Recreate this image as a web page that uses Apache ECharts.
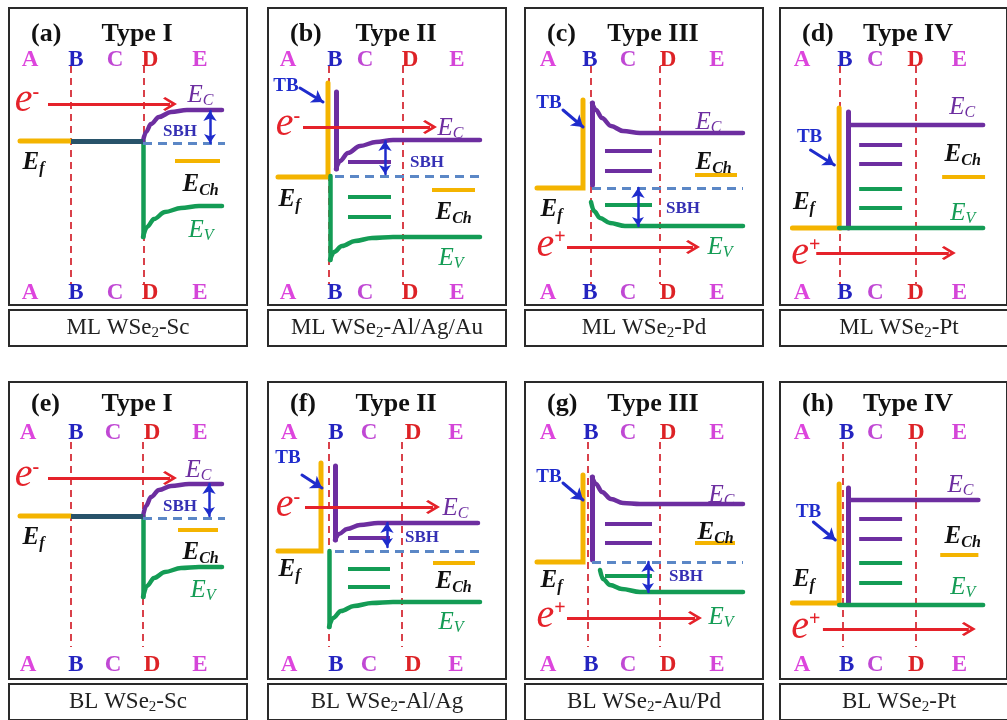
<!DOCTYPE html>
<html>
<head>
<meta charset="utf-8">
<script src="https://cdn.jsdelivr.net/npm/echarts@6/dist/echarts.min.js"></script>
<style>
  html, body { margin: 0; padding: 0; background: #ffffff; }
  #chart { width: 1007px; height: 720px; }
</style>
</head>
<body>
<div id="chart"></div>
<script>
// ---- Panel identity -------------------------------------------------------
const panelTags    = ['(a)', '(b)', '(c)', '(d)', '(e)', '(f)', '(g)', '(h)'];
const contactTypes = ['Type I', 'Type II', 'Type III', 'Type IV', 'Type I', 'Type II', 'Type III', 'Type IV'];
const layers       = ['ML', 'ML', 'ML', 'ML', 'BL', 'BL', 'BL', 'BL'];
const metals       = ['Sc', 'Al/Ag/Au', 'Pd', 'Pt', 'Sc', 'Al/Ag', 'Au/Pd', 'Pt'];
const regionNames  = ['A', 'B', 'C', 'D', 'E'];

// ---- Schematic coordinates (x: position across the contact, y: energy depth) ----
const regionLetterX = [
  [21, 67, 106, 141, 191], [20, 67, 97, 142, 189], [23, 65, 103, 143, 192], [23, 68, 100, 142, 188],
  [19, 67, 104, 143, 191], [21, 68, 101, 145, 188], [23, 66, 103, 143, 192], [23, 70, 100, 143, 188]
];
// interfaces B and D
const interfaceX = [[62, 135], [61, 135], [66, 135], [63, 142], [62, 134], [61, 134], [63, 135], [66, 142]];

// metal Fermi level (with the tunnelling-barrier step where present)
const metalFermi = [
  [[11, 133], [62, 133]],
  [[10, 169], [60, 169], [60, 75]],
  [[12, 180], [58, 180], [58, 92]],
  [[13, 220], [62, 220], [62, 100]],
  [[11, 134], [62, 134]],
  [[10, 169], [53, 169], [53, 81]],
  [[12, 180], [58, 180], [58, 93]],
  [[13, 221], [62, 221], [62, 102]]
];
// metallised region where E_C and E_V merge with E_f
const metallicOverlap = [[[62, 133], [134, 133]], null, null, null, [[62, 134], [134, 134]], null, null, null];
// vertical wall of the tunnelling barrier
const barrierWall = [
  null, [[68, 84], [68, 161]], [[67, 95], [67, 177]], [[72, 104], [72, 220]],
  null, [[67, 84], [67, 158]], [[67, 95], [67, 178]], [[72, 106], [72, 221]]
];
const conductionBand = [
  [[134, 133], [137, 124], [142, 116], [150, 109], [162, 104], [178, 102], [213, 102]],
  [[68, 161], [72, 153], [80, 145], [92, 138], [108, 134], [125, 132], [212, 132]],
  [[67, 95], [71, 102], [77, 110], [86, 118], [98, 123], [115, 125], [218, 125]],
  [[72, 117], [213, 117]],
  [[134, 134], [137, 124], [142, 115], [150, 108], [162, 104], [180, 102], [213, 102]],
  [[67, 158], [71, 152], [79, 147], [92, 143], [110, 141], [130, 141], [210, 141]],
  [[67, 95], [71, 102], [77, 110], [86, 117], [98, 121], [115, 122], [218, 122]],
  [[72, 118], [208, 118]]
];
const valenceDrop = [
  [[134, 133], [134, 229]], [[62, 168], [62, 252]], null, null,
  [[134, 134], [134, 215]], [[61, 169], [61, 245]], null, null
];
const valenceBand = [
  [[134, 229], [138, 219], [145, 211], [156, 204], [172, 200], [190, 198], [213, 198]],
  [[62, 252], [66, 244], [74, 238], [87, 233], [104, 230], [125, 229], [212, 229]],
  [[66, 194], [69, 203], [75, 210], [85, 215], [100, 218], [118, 218], [218, 218]],
  [[62, 220], [213, 220]],
  [[134, 215], [138, 204], [145, 196], [156, 190], [172, 186], [190, 185], [213, 185]],
  [[61, 245], [65, 236], [73, 229], [86, 224], [104, 221], [125, 220], [212, 220]],
  [[75, 188], [78, 197], [85, 203], [97, 207], [115, 210], [135, 210], [218, 210]],
  [[62, 223], [213, 223]]
];
// gap states inside the channel region
const gapStateX   = [null, [80, 123], [80, 127], [83, 128], null, [80, 122], [80, 127], [83, 128]];
const cbGapStates = [[], [154], [143, 163], [137, 156], [], [156], [142, 161], [137, 157]];
const vbGapStates = [[], [189, 209], [197], [181, 200], [], [187, 205], [194], [181, 201]];
// reference Fermi level for the barrier height: [y, x0, x1]
const fermiDash = [[135, 134, 216], [168, 67, 212], [180, 67, 218], null, [136, 134, 216], [169, 67, 212], [180, 67, 218], null];
// Schottky barrier arrow: [x, y0, y1]
const sbhArrow   = [[201, 103, 135], [117, 133, 166], [113, 180, 218], null, [200, 102, 134], [119, 141, 165], [123, 180, 210], null];
const sbhTextPos = [[171, 124], [159, 155], [158, 201], null, [171, 125], [154, 156], [161, 195], null];
// carrier injection arrow: [y, x0, x1]
const carrierSign    = ['-', '-', '+', '+', '-', '-', '+', '+'];
const carrierArrow   = [[96, 39, 161], [119, 35, 162], [239, 42, 168], [245, 38, 177], [96, 39, 161], [125, 37, 165], [236, 42, 170], [247, 45, 198]];
const carrierTextPos = [[18, 92], [20, 116], [26, 237], [27, 245], [18, 93], [20, 123], [26, 234], [27, 245]];
// charge-neutrality level of the channel: [y, x0, x1]
const neutralLevel = [[153, 166, 211], [182, 164, 207], [167, 170, 212], [169, 170, 215], [148, 169, 209], [181, 165, 207], [161, 170, 210], [173, 168, 208]];
// energy-level labels
const ecLabelPos  = [[178, 87], [169, 120], [170, 114], [177, 99], [176, 88], [174, 126], [183, 113], [175, 103]];
const echLabelPos = [[173, 177], [167, 205], [170, 155], [172, 147], [173, 171], [167, 200], [172, 151], [172, 155]];
const evLabelPos  = [[179, 222], [170, 250], [182, 239], [178, 205], [181, 208], [170, 240], [183, 235], [178, 205]];
const efLabelPos  = [[13, 155], [10, 192], [15, 202], [13, 195], [13, 156], [10, 188], [15, 199], [13, 198]];
// tunnelling barrier marker
const tbTextPos = [null, [18, 78], [24, 95], [31, 129], null, [20, 76], [24, 95], [30, 130]];
const tbArrow   = [null, [[32, 80], [55, 94]], [[38, 102], [58, 119]], [[32, 142], [57, 157]], null, [[34, 93], [54, 106]], [[38, 101], [58, 118]], [[35, 140], [58, 158]]];

// ---- Layout & style ------------------------------------------------------
const PANEL_LEFT = [9, 268, 525, 780];
const ROW_TOP = [8, 382];
const PANEL_W = 238, PANEL_H = 297;
const X_SPAN = 238, Y_SPAN = 297;
const CAPTION_GAP = 5, CAPTION_H = 36;
const TITLE_Y = [26, 22];
const LETTER_Y = [[52, 285], [51, 283]];
const INTERFACE_SPAN = [[58, 276], [60, 265]];

const SERIF = '"Liberation Serif", "Times New Roman", "DejaVu Serif", serif';
const COLORS = {
  cb: '#6d2ea0', vb: '#149c55', metal: '#f4b400', carrier: '#e5222a',
  iface: '#d9414a', fermi: '#5b87c6', sbh: '#1f2ccc', overlap: '#28536a',
  frame: '#2a2a2a', ink: '#111111'
};
const LETTER_COLORS = ['#dd45dd', '#2424c0', '#c048d4', '#dd2226', '#d445d8'];
const OPEN_HEAD = 'path://M0,0L9,11L7,13L0,5L-7,13L-9,11Z';

function linesSeries(i, data, lineStyle, extra) {
  return Object.assign({
    type: 'lines', coordinateSystem: 'cartesian2d', xAxisIndex: i, yAxisIndex: i,
    silent: true, animation: false,
    lineStyle: Object.assign({ opacity: 1, cap: 'round', curveness: 0 }, lineStyle),
    data: data
  }, extra || {});
}
function curveSeries(i, pts, color, width) {
  return {
    type: 'line', xAxisIndex: i, yAxisIndex: i, data: pts, smooth: 0.35, smoothMonotone: 'x',
    symbol: 'none', silent: true, animation: false, z: 3,
    lineStyle: { color: color, width: width, cap: 'round' }
  };
}
function energyLabel(main, sub, color, bold) {
  const w = bold ? 'bold' : 'normal';
  return {
    formatter: '{m|' + main + '}{s|' + sub + '}',
    rich: {
      m: { fontFamily: SERIF, fontStyle: 'italic', fontWeight: w, fontSize: 25, color: color },
      s: { fontFamily: SERIF, fontStyle: 'italic', fontWeight: w, fontSize: 16, color: color,
           verticalAlign: 'bottom', padding: [12, 0, 0, 0] }
    }
  };
}

const grid = [], xAxis = [], yAxis = [], series = [], graphic = [];

for (let i = 0; i < 8; i++) {
  const row = Math.floor(i / 4), col = i % 4;
  const L = PANEL_LEFT[col], T = ROW_TOP[row];

  grid.push({ left: L, top: T, width: PANEL_W, height: PANEL_H, show: true,
              backgroundColor: '#ffffff', borderColor: COLORS.frame, borderWidth: 2 });
  xAxis.push({ type: 'value', gridIndex: i, min: 0, max: X_SPAN, show: false });
  yAxis.push({ type: 'value', gridIndex: i, min: 0, max: Y_SPAN, inverse: true, show: false });

  // interfaces B and D
  const span = INTERFACE_SPAN[row];
  series.push(linesSeries(i, interfaceX[i].map(x => ({ coords: [[x, span[0]], [x, span[1]]] })),
    { color: COLORS.iface, width: 2, type: [7, 5], cap: 'butt' }, { z: 1 }));

  // metal Fermi level
  series.push(linesSeries(i, [{ coords: metalFermi[i] }], { color: COLORS.metal, width: 5 }, { polyline: true, z: 2 }));

  if (barrierWall[i]) {
    series.push(linesSeries(i, [{ coords: barrierWall[i] }], { color: COLORS.cb, width: 5 }, { z: 3 }));
  }
  // bands
  series.push(curveSeries(i, conductionBand[i], COLORS.cb, 4.5));
  if (valenceDrop[i]) {
    series.push(linesSeries(i, [{ coords: valenceDrop[i] }], { color: COLORS.vb, width: 4.5 }, { z: 3 }));
  }
  series.push(curveSeries(i, valenceBand[i], COLORS.vb, 4.5));
  if (metallicOverlap[i]) {
    series.push(linesSeries(i, [{ coords: metallicOverlap[i] }], { color: COLORS.overlap, width: 5, cap: 'butt' }, { z: 4 }));
  }

  // gap states
  if (gapStateX[i]) {
    const gx = gapStateX[i];
    series.push(linesSeries(i, cbGapStates[i].map(y => ({ coords: [[gx[0], y], [gx[1], y]] })),
      { color: COLORS.cb, width: 4, cap: 'butt' }, { z: 3 }));
    series.push(linesSeries(i, vbGapStates[i].map(y => ({ coords: [[gx[0], y], [gx[1], y]] })),
      { color: COLORS.vb, width: 4, cap: 'butt' }, { z: 3 }));
  }

  // reference Fermi level and Schottky barrier
  if (fermiDash[i]) {
    const f = fermiDash[i];
    series.push(linesSeries(i, [{ coords: [[f[1], f[0]], [f[2], f[0]]] }],
      { color: COLORS.fermi, width: 3, type: [9, 6], cap: 'butt' }, { z: 4 }));
  }
  if (sbhArrow[i]) {
    const s = sbhArrow[i];
    series.push(linesSeries(i, [{ coords: [[s[0], s[1]], [s[0], s[2]]] }],
      { color: COLORS.sbh, width: 2.5 }, { z: 5, symbol: ['arrow', 'arrow'], symbolSize: [10, 9] }));
  }

  // charge-neutrality level
  const n = neutralLevel[i];
  series.push(linesSeries(i, [{ coords: [[n[1], n[0]], [n[2], n[0]]] }],
    { color: COLORS.metal, width: 4, cap: 'butt' }, { z: 3 }));

  // carrier injection
  const c = carrierArrow[i];
  series.push(linesSeries(i, [{ coords: [[c[1], c[0]], [c[2], c[0]]] }],
    { color: COLORS.carrier, width: 3, cap: 'butt' }, { z: 5, symbol: ['none', OPEN_HEAD], symbolSize: [16, 14] }));

  // tunnelling barrier pointer
  if (tbArrow[i]) {
    series.push(linesSeries(i, [{ coords: tbArrow[i] }],
      { color: COLORS.sbh, width: 3 }, { z: 5, symbol: ['none', 'arrow'], symbolSize: [11, 11] }));
  }

  // ---- text placed in the panel's data space
  const labels = [];
  const put = (x, y, lab, pos) => labels.push({
    value: [x, y],
    label: Object.assign({ show: true, position: pos || 'inside', distance: 0 }, lab)
  });
  regionNames.forEach((name, k) => {
    const st = { k: { fontFamily: SERIF, fontWeight: 'bold', fontSize: 23, color: LETTER_COLORS[k] } };
    put(regionLetterX[i][k], LETTER_Y[row][0], { formatter: '{k|' + name + '}', rich: st });
    put(regionLetterX[i][k], LETTER_Y[row][1], { formatter: '{k|' + name + '}', rich: st });
  });
  put(ecLabelPos[i][0], ecLabelPos[i][1], energyLabel('E', 'C', COLORS.cb, false), 'right');
  put(echLabelPos[i][0], echLabelPos[i][1], energyLabel('E', 'Ch', COLORS.ink, true), 'right');
  put(evLabelPos[i][0], evLabelPos[i][1], energyLabel('E', 'V', COLORS.vb, false), 'right');
  put(efLabelPos[i][0], efLabelPos[i][1], energyLabel('E', 'f', COLORS.ink, true), 'right');
  put(carrierTextPos[i][0], carrierTextPos[i][1], {
    formatter: '{m|e}{p|' + carrierSign[i] + '}',
    rich: {
      m: { fontFamily: SERIF, fontStyle: 'italic', fontSize: 40, color: COLORS.carrier },
      p: { fontFamily: SERIF, fontWeight: 'bold', fontSize: 20, color: COLORS.carrier, verticalAlign: 'top', padding: [3, 0, 0, 0] }
    }
  });
  if (sbhTextPos[i]) {
    put(sbhTextPos[i][0], sbhTextPos[i][1], {
      formatter: '{b|SBH}',
      rich: { b: { fontFamily: SERIF, fontWeight: 'bold', fontSize: 17, color: '#3530b4' } }
    });
  }
  if (tbTextPos[i]) {
    put(tbTextPos[i][0], tbTextPos[i][1], {
      formatter: '{b|TB}',
      rich: { b: { fontFamily: SERIF, fontWeight: 'bold', fontSize: 19, color: COLORS.sbh } }
    });
  }
  series.push({
    type: 'scatter', xAxisIndex: i, yAxisIndex: i, symbolSize: 1, silent: true, animation: false, z: 8,
    itemStyle: { color: 'rgba(0,0,0,0)', opacity: 1 }, data: labels
  });

  // ---- panel heading and caption box
  graphic.push({
    type: 'text', x: L + 22, y: T + TITLE_Y[row], silent: true, z: 10,
    style: { text: panelTags[i], font: 'bold 26px ' + SERIF, fill: COLORS.ink,
             textAlign: 'left', textVerticalAlign: 'middle' }
  });
  graphic.push({
    type: 'text', x: L + 128, y: T + TITLE_Y[row], silent: true, z: 10,
    style: { text: contactTypes[i], font: 'bold 26px ' + SERIF, fill: COLORS.ink,
             textAlign: 'center', textVerticalAlign: 'middle' }
  });
  const capTop = T + PANEL_H + CAPTION_GAP;
  graphic.push({
    type: 'rect', silent: true, z: 10,
    shape: { x: L, y: capTop, width: PANEL_W, height: CAPTION_H },
    style: { fill: '#ffffff', stroke: COLORS.frame, lineWidth: 2 }
  });
  graphic.push({
    type: 'text', x: L + PANEL_W / 2, y: capTop + CAPTION_H / 2, silent: true, z: 11,
    style: {
      text: '{t|' + layers[i] + ' WSe}{s|2}{t|-' + metals[i] + '}',
      textAlign: 'center', textVerticalAlign: 'middle',
      rich: {
        t: { fontFamily: 'Liberation Serif', fontSize: 23, fill: '#222222' },
        s: { fontFamily: 'Liberation Serif', fontSize: 15, fill: '#222222', verticalAlign: 'bottom', padding: [10, 0, 0, 0] }
      }
    }
  });
}

const chart = echarts.init(document.getElementById('chart'), null, { renderer: 'canvas' });
chart.setOption({
  backgroundColor: '#ffffff',
  animation: false,
  grid: grid,
  xAxis: xAxis,
  yAxis: yAxis,
  series: series,
  graphic: graphic
});
</script>
</body>
</html>
